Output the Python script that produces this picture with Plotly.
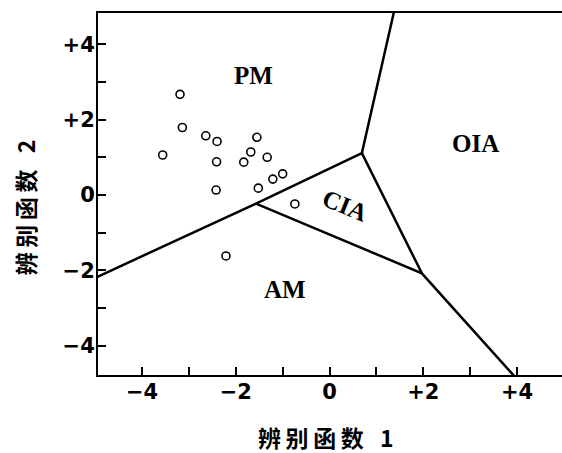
import plotly.graph_objects as go

# Discriminant scores of the samples (function 1, function 2)
score_f1 = [-3.19, -3.14, -3.56, -2.64, -2.40, -2.41, -2.42, -1.55, -1.68,
            -1.83, -1.33, -1.52, -1.21, -1.00, -0.74, -2.21]
score_f2 = [2.67, 1.79, 1.06, 1.57, 1.42, 0.88, 0.13, 1.53, 1.14,
            0.87, 1.00, 0.18, 0.42, 0.56, -0.24, -1.62]

# Field boundaries (polyline vertices, None separates segments)
boundary_x = [-5.0, -1.57, 0.69, 1.40, None, -1.57, 1.97, 4.08, None, 0.69, 1.97]
boundary_y = [-2.20, -0.23, 1.11, 5.0, None, -0.23, -2.08, -5.0, None, 1.11, -2.08]

# Field names and label positions
field_names = ["PM", "OIA", "CIA", "AM"]
field_x = [-1.62, 3.12, 0.33, -0.96]
field_y = [3.18, 1.37, -0.28, -2.52]
field_angle = [0, 0, 22, 0]

tick_vals = [-4, -3, -2, -1, 0, 1, 2, 3, 4]
tick_text = ["\u22124", "", "\u22122", "", "0", "", "+2", "", "+4"]

x_title = "辨\u2009别\u2009函\u2009数\u2002\u20091"
y_title = "辨\u2009别\u2009函\u2009数\u2002\u20092"

fig = go.Figure()

fig.add_trace(go.Scatter(
    x=boundary_x, y=boundary_y, mode="lines",
    line=dict(color="black", width=2.5),
    hoverinfo="skip", showlegend=False,
))

fig.add_trace(go.Scatter(
    x=score_f1, y=score_f2, mode="markers",
    marker=dict(symbol="circle-open", size=8, color="black",
                line=dict(color="black", width=1.6)),
    showlegend=False,
))

for name, fx, fy, ang in zip(field_names, field_x, field_y, field_angle):
    fig.add_annotation(
        x=fx, y=fy, text=f"<b>{name}</b>", showarrow=False, textangle=ang,
        font=dict(family="Liberation Serif", size=25, color="black"),
    )

title_font = dict(family="Noto Sans CJK SC", size=23, color="black")
fig.add_annotation(
    xref="paper", yref="paper", x=0.49, y=-0.171,
    xanchor="center", yanchor="middle",
    text=f"<b>{x_title}</b>", showarrow=False, font=title_font,
)
fig.add_annotation(
    xref="paper", yref="paper", x=-0.157, y=0.461,
    xanchor="center", yanchor="middle",
    text=f"<b>{y_title}</b>", showarrow=False, textangle=-90, font=title_font,
)

tick_font = dict(family="DejaVu Sans", size=21, color="black", weight="bold")
axis_common = dict(
    tickvals=tick_vals, ticktext=tick_text, ticks="inside", ticklen=8,
    tickwidth=2, tickcolor="black", showline=True, linecolor="black",
    linewidth=2, showgrid=False, zeroline=False, tickfont=tick_font,
)

fig.update_xaxes(range=[-4.94, 4.96], mirror=True, ticklabelstandoff=-3,
                 **axis_common)
fig.update_yaxes(range=[-4.78, 4.83], ticklabelstandoff=-3, **axis_common)

fig.update_layout(
    width=562, height=453,
    margin=dict(l=98, r=0, t=13, b=78),
    plot_bgcolor="white", paper_bgcolor="white",
    font=dict(family="DejaVu Sans", color="black"),
)

fig.write_html("out.html")
